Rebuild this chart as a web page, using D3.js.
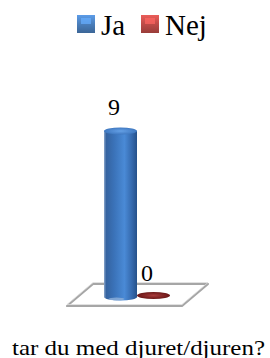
<!DOCTYPE html>
<html>
<head>
<meta charset="utf-8">
<script src="https://cdn.jsdelivr.net/npm/d3@7"></script>
<style>
  body { margin: 0; background: #fff; }
  svg { display: block; }
</style>
</head>
<body>
<div id="chart"></div>
<script>
// data
const categories = ['tar du med djuret/djuren?'];
const seriesNames = ['Ja', 'Nej'];
const seriesValues = [9, 0];
const seriesColors = ['#4a7ebb', '#be4b48'];

const width = 270, height = 358;
const serif = '"Liberation Serif"';

const svg = d3.select('#chart').append('svg')
    .attr('width', width)
    .attr('height', height);

const defs = svg.append('defs');

// cylinder shading
const blueGrad = defs.append('linearGradient').attr('id', 'blueBody');
[['0%', '#8aa6cb'], ['7%', '#3563a0'], ['30%', '#3a72b8'], ['62%', '#4a8ad6'],
 ['85%', '#3569ad'], ['100%', '#25518a']].forEach(([o, c]) =>
    blueGrad.append('stop').attr('offset', o).attr('stop-color', c));

const blueCap = defs.append('radialGradient').attr('id', 'blueCap');
[['0%', '#64a0e6'], ['100%', '#3f78c0']].forEach(([o, c]) =>
    blueCap.append('stop').attr('offset', o).attr('stop-color', c));

const redDisk = defs.append('radialGradient').attr('id', 'redDisk');
[['0%', '#a83c3c'], ['100%', '#6a1616']].forEach(([o, c]) =>
    redDisk.append('stop').attr('offset', o).attr('stop-color', c));

seriesColors.forEach((c, i) => {
    const g = defs.append('linearGradient').attr('id', 'leg' + i)
        .attr('x1', 0).attr('y1', 0).attr('x2', 0).attr('y2', 1);
    g.append('stop').attr('offset', '0%').attr('stop-color', d3.color(c).brighter(0.6));
    g.append('stop').attr('offset', '50%').attr('stop-color', c);
    g.append('stop').attr('offset', '100%').attr('stop-color', d3.color(c).darker(0.6));
});

// scales
const x0 = d3.scaleBand().domain(categories).range([104, 170]).padding(0);
const x1 = d3.scaleBand().domain(seriesNames).range([0, x0.bandwidth()]).padding(0);
const y = d3.scaleLinear().domain([0, 9]).range([297, 131]);

const depthX = 26, depthY = 22;

// floor (3D slab)
const fl = 37, fr = 12;
const cx0 = x0(categories[0]);
const floorFront = y(0) + 9;
const floorBack = floorFront - depthY;
const floorPts = [
    [cx0 - fl, floorFront], [cx0 + x0.bandwidth() + fr, floorFront],
    [cx0 + x0.bandwidth() + fr + depthX, floorBack], [cx0 - fl + depthX, floorBack]
];
svg.append('polygon')
    .attr('points', floorPts.map(p => p.join(',')).join(' '))
    .attr('fill', '#fff')
    .attr('stroke', '#a6a6a6')
    .attr('stroke-width', 2.2)
    .attr('stroke-linejoin', 'round');
svg.append('polygon')
    .attr('points', floorPts.map(p => [p[0], p[1] - 1.5].join(',')).join(' '))
    .attr('fill', 'none')
    .attr('stroke', '#d9d9d9')
    .attr('stroke-width', 0.8);

// bars
const data = seriesNames.map((s, i) => ({ name: s, value: seriesValues[i], cat: categories[0] }));

data.forEach((d, i) => {
    const left = x0(d.cat) + x1(d.name);
    const w = x1.bandwidth();
    const rx = w / 2, ry = 3.5;
    if (d.value > 0) {
        const top = y(d.value), bottom = y(0);
        svg.append('path')
            .attr('d', `M${left},${top} L${left},${bottom} A${rx},${ry} 0 0 0 ${left + w},${bottom} L${left + w},${top} Z`)
            .attr('fill', 'url(#blueBody)');
        svg.append('ellipse')
            .attr('cx', left + rx).attr('cy', top)
            .attr('rx', rx).attr('ry', ry)
            .attr('fill', 'url(#blueCap)');
        svg.append('ellipse')
            .attr('cx', left + rx - 4).attr('cy', bottom + 2)
            .attr('rx', 8).attr('ry', 1.5)
            .attr('fill', '#8fb0da').attr('opacity', 0.8);
    } else {
        svg.append('ellipse')
            .attr('cx', left + rx).attr('cy', y(0) - 1.5)
            .attr('rx', rx).attr('ry', ry)
            .attr('fill', 'url(#redDisk)');
    }
    svg.append('text')
        .attr('x', left + rx - 6.5)
        .attr('y', y(d.value) - 16)
        .attr('text-anchor', 'middle')
        .attr('font-family', serif)
        .attr('font-size', 24)
        .text(d.value);
});

// legend
const legendX = [77, 141];
const legend = svg.append('g');
seriesNames.forEach((s, i) => {
    legend.append('rect')
        .attr('x', legendX[i]).attr('y', 15)
        .attr('width', 18).attr('height', 18)
        .attr('fill', `url(#leg${i})`);
    legend.append('rect')
        .attr('x', legendX[i] + 4).attr('y', 18)
        .attr('width', 10).attr('height', 6)
        .attr('fill', d3.color(seriesColors[i]).brighter(0.9))
        .attr('opacity', 0.7);
    legend.append('text')
        .attr('x', legendX[i] + 24).attr('y', 35)
        .attr('font-family', serif)
        .attr('font-size', 29)
        .text(s);
});

// category label (cut by the bottom edge, as in the original)
svg.append('text')
    .attr('x', 12).attr('y', 355)
    .attr('textLength', 253)
    .attr('lengthAdjust', 'spacingAndGlyphs')
    .attr('font-family', serif)
    .attr('font-size', 22)
    .text(categories[0]);
</script>
</body>
</html>
